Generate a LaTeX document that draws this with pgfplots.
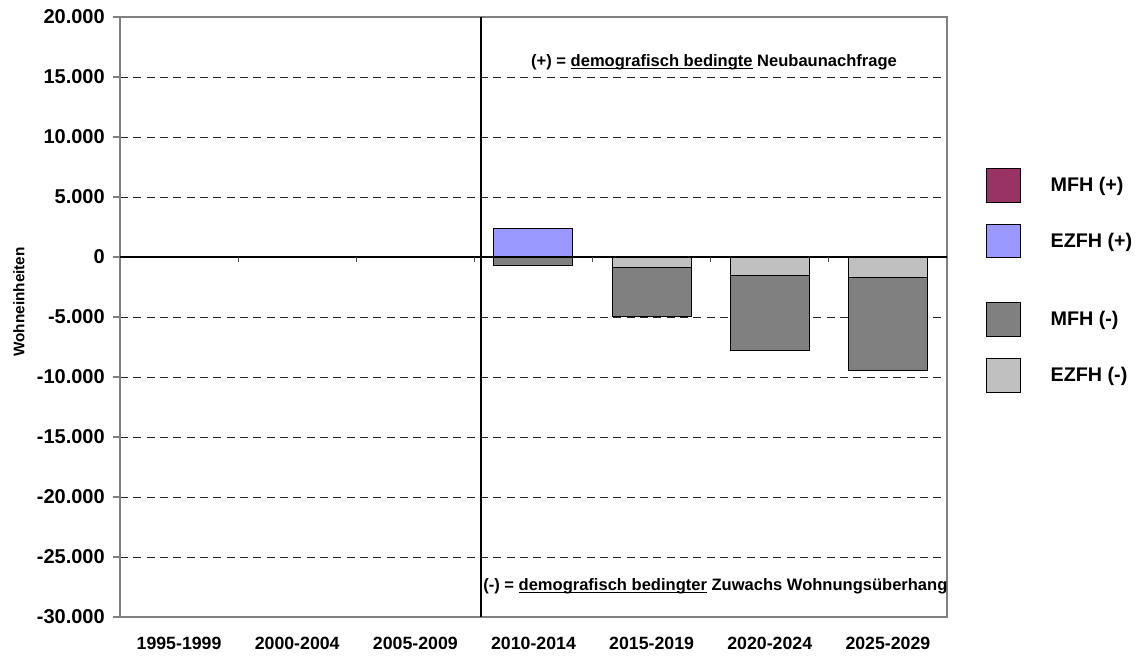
\documentclass[border=0pt]{standalone}
\usepackage{fontspec}
\setmainfont{Liberation Sans}
\usepackage{pgfplots}
\usepackage{pgfplotstable}
\pgfplotsset{compat=1.18}
\definecolor{mfhplus}{HTML}{993366}
\definecolor{ezfhplus}{HTML}{9999FF}
\definecolor{mfhminus}{HTML}{808080}
\definecolor{ezfhminus}{HTML}{C0C0C0}
\definecolor{axgray}{HTML}{808080}
\newcommand\ul[1]{\setbox0\hbox{#1}\rlap{\rule[-1.9pt]{\wd0}{0.8pt}}\box0\relax}

\pgfplotstableread{
x ezfhplus ezfhminus mfhminus
3 2380 0 -700
4 0 -890 -4110
5 0 -1560 -6250
6 0 -1750 -7700
}\datatable

\begin{document}
\begin{tikzpicture}
\useasboundingbox (-90pt,-29.25pt) rectangle (762pt,462.75pt);
\begin{axis}[
  at={(0pt,0pt)}, anchor=south west,
  scale only axis, width=620.25pt, height=450pt,
  xmin=-0.5, xmax=6.5, ymin=-30000, ymax=20000,
  xtick={0,...,6},
  xticklabels={1995-1999,2000-2004,2005-2009,2010-2014,2015-2019,2020-2024,2025-2029},
  ytick={-30000,-25000,...,20000},
  scaled y ticks=false,
  /pgf/number format/assume math mode=true,
  /pgf/number format/1000 sep={.},
  xtick style={draw=none},
  ytick pos=left,
  tick align=outside,
  major tick length=5.25pt,
  ytick style={axgray, line width=0.9pt},
  axis line style={axgray, line width=1.1pt},
  ymajorgrids,
  major grid style={black!85, line width=0.6pt, dash pattern=on 6pt off 4pt},
  yticklabel style={font=\bfseries\fontsize{15}{18}\selectfont, inner sep=0pt, xshift=-6pt},
  xticklabel style={font=\bfseries\fontsize{13.3}{16}\selectfont, inner sep=0pt, anchor=north, yshift=-9.75pt},
  every axis y label/.style={at={(axis description cs:-0.12213,0.525)}, rotate=90, anchor=center, font=\bfseries\fontsize{11.5}{13}\selectfont},
  ylabel={Wohneinheiten},
  ybar, bar width=59.25pt,
  legend style={at={(axis description cs:1.0472,0.7483)}, anchor=north west, draw=none, fill=none, inner sep=0pt,
    nodes={inner sep=0pt}, row sep=15.75pt, column sep=22.5pt,
    font=\bfseries\fontsize{14.8}{17}\selectfont},
  legend cell align=left,
  legend image code/.code={\draw[#1] (0pt,-12.6pt) rectangle (25pt,12.6pt);},
  clip=false,
]
% bars
\addplot[forget plot, bar shift=0pt, fill=ezfhplus, draw=black, line width=0.75pt] table[x=x, y=ezfhplus] {\datatable};
\addplot[forget plot, bar shift=0pt, fill=mfhminus, draw=black, line width=0.75pt] table[x=x, y expr=\thisrow{ezfhminus}+\thisrow{mfhminus}] {\datatable};
\addplot[forget plot, bar shift=0pt, fill=ezfhminus, draw=black, line width=0.75pt] table[x=x, y=ezfhminus] {\datatable};
% zero line and ticks on it
\draw[black, line width=0.9pt] (axis cs:-0.5,0) -- (axis cs:6.5,0);
\pgfplotsinvokeforeach{0.5,1.5,2.5,3.5,4.5,5.5}{\draw[black!70, line width=0.9pt] (axis cs:#1,0) -- ++(0pt,-3.75pt);}
% separator line
\draw[black, line width=1pt] (axis description cs:0.4365,0) -- (axis description cs:0.4365,1);
% annotations
\node[font=\bfseries\fontsize{12.4}{15}\selectfont, anchor=center, inner sep=0pt] at (axis description cs:0.7183,0.925) {(+) = \ul{demografisch bedingte} Neubaunachfrage};
\node[font=\bfseries\fontsize{12.4}{15}\selectfont, anchor=west, inner sep=0pt] at (axis description cs:0.4390,0.0517) {(-) = \ul{demografisch bedingter} Zuwachs Wohnungsüberhang};
% legend
\addlegendimage{fill=mfhplus, draw=black, line width=0.75pt}
\addlegendentry{MFH (+)}
\addlegendimage{fill=ezfhplus, draw=black, line width=0.75pt}
\addlegendentry{EZFH (+)}
\addlegendimage{empty legend}
\addlegendentry{}
\addlegendimage{fill=mfhminus, draw=black, line width=0.75pt}
\addlegendentry{MFH (-)}
\addlegendimage{fill=ezfhminus, draw=black, line width=0.75pt}
\addlegendentry{EZFH (-)}
\end{axis}
\end{tikzpicture}
\end{document}
